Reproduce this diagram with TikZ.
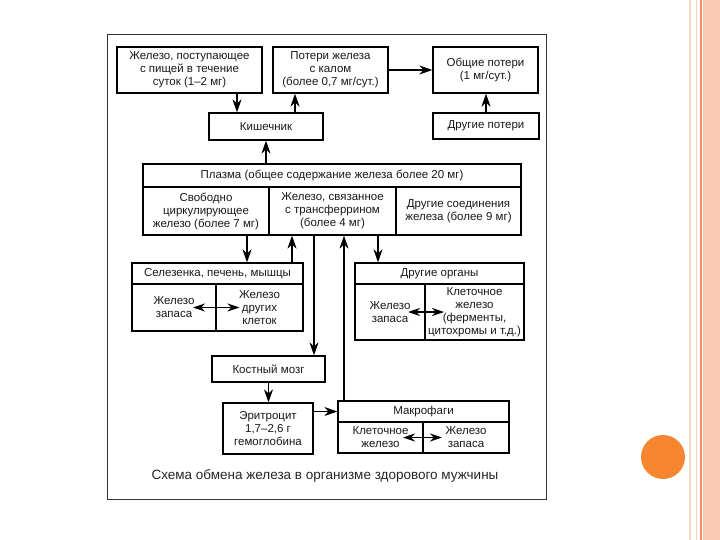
\documentclass[tikz,border=0pt]{standalone}
\usepackage{fontspec}
\setmainfont{Liberation Sans}
\usetikzlibrary{arrows.meta}
\definecolor{peach}{HTML}{FBC8B3}
\definecolor{peachline}{HTML}{F0906E}
\definecolor{paleline}{HTML}{F6D6C6}
\definecolor{dotorange}{HTML}{F5862F}

\begin{document}
\begin{tikzpicture}[x=1pt, y=-1pt,
        box/.style={draw, line width=1.2pt, align=center, inner sep=1pt, text=black!90,
                    font=\fontsize{11.5}{13}\selectfont},
        sz/.style 2 args={minimum width=#1pt, minimum height=#2pt},
        arr/.style={-{Stealth[length=13pt,width=9pt,inset=4pt]}, line width=1.6pt},
        darr/.style={{Stealth[length=12pt,width=8pt,inset=4pt]}-{Stealth[length=12pt,width=8pt,inset=4pt]}, line width=1.3pt}
        ]
        \fill[white] (0,0) rectangle (720,540);
        \useasboundingbox (0,0) rectangle (720,540);
        % slide decoration
        \fill[peach] (702.5,0) rectangle (720,540);
        \draw[peachline, line width=2.5pt] (701,0) -- (701,540);
        \draw[paleline, line width=1pt] (696.5,0) -- (696.5,540);
        \draw[paleline, line width=2pt] (689.5,0) -- (689.5,540);
        \fill[dotorange] (663,457) circle (22pt);
        % frame
        \draw[line width=1pt, black!80] (107,35) rectangle (546,499);

        \node[box, sz={145}{46}]    (food)       at (189.5,70)    {Железо, поступающее\\с пищей в течение\\суток (1–2 мг)};
        \node[box, sz={115}{46}]    (feces)      at (330.5,70)    {Потери железа\\с калом\\(более 0,7 мг/сут.)};
        \node[box, sz={105}{46}]    (total)      at (485.5,70)    {Общие потери\\(1 мг/сут.)};
        \node[box, sz={114}{27}]    (gut)        at (266,126.5)   {Кишечник};
        \node[box, sz={106}{26}]    (otherloss)  at (486,126)     {Другие потери};
        \node[box, sz={378}{23}]    (plasma)     at (332,175.5)   {Плазма (общее содержание железа более 20 мг)};
        \node[box, sz={126}{48}]    (free)       at (206,211)     {Свободно\\циркулирующее\\железо (более 7 мг)};
        \node[box, sz={127}{48}]    (transf)     at (332.5,211)   {Железо, связанное\\с трансферрином\\(более 4 мг)};
        \node[box, sz={125}{48}]    (compounds)  at (458.5,211)   {Другие соединения\\железа (более 9 мг)};
        \node[box, sz={171}{21}]    (spleenhead) at (217.5,273.5) {Селезенка, печень, мышцы};
        \node[box, sz={84}{47}]     (sstore)     at (174,307.5)   {Железо\\запаса};
        \node[box, sz={87}{47}]     (scells)     at (259.5,307.5) {Железо\\других\\клеток};
        \node[box, sz={169}{21}]    (organshead) at (439.5,273.5) {Другие органы};
        \node[box, sz={70}{56}]     (ostore)     at (390,312)     {Железо\\запаса};
        \node[box, sz={99}{56}]     (ocells)     at (474.5,312)   {Клеточное\\железо\\(ферменты,\\цитохромы и т.д.)};
        \node[box, sz={113}{26}]    (marrow)     at (268.5,369)   {Костный мозг};
        \node[box, sz={90}{51}]     (ery)        at (268,428.5)   {Эритроцит\\1,7–2,6 г\\гемоглобина};
        \node[box, sz={171}{21}]    (macrohead)  at (423.5,411.5) {Макрофаги};
        \node[box, sz={85}{31}]     (mcells)     at (380.5,437.5) {Клеточное\\железо};
        \node[box, sz={86}{31}]     (mstore)     at (466,437.5)   {Железо\\запаса};
        \node[text=black!85, font=\fontsize{13.5}{15}\selectfont] (caption) at (325,476)
            {Схема обмена железа в организме здорового мужчины};

        % connectors
        \draw[arr] ([xshift=47.5pt]food.south) -- ([xshift=47.5pt]food.south |- gut.north);
        \draw[arr] ([xshift=29pt]gut.north) -- ([xshift=29pt]gut.north |- feces.south);
        \draw[arr] (feces.east) -- (total.west);
        \draw[arr] (otherloss.north) -- (otherloss.north |- total.south);
        \draw[arr] (gut.south |- plasma.north) -- (gut.south);
        \draw[arr] ([xshift=41pt]free.south) -- ([xshift=41pt]free.south |- spleenhead.north);
        \draw[arr] ([xshift=74.5pt]spleenhead.north) -- ([xshift=74.5pt]spleenhead.north |- free.south);
        \draw[arr] ([xshift=-18.5pt]transf.south) -- ([xshift=-18.5pt]transf.south |- marrow.north);
        \draw[arr] ([xshift=-79.5pt]macrohead.north) -- ([xshift=-79.5pt]macrohead.north |- transf.south);
        \draw[arr] ([xshift=45.5pt]transf.south) -- ([xshift=45.5pt]transf.south |- organshead.north);
        \draw[arr] (marrow.south) -- (marrow.south |- ery.north);
        \draw[arr] (ery.east |- macrohead.west) -- (macrohead.west);
        \draw[darr] ([xshift=19pt]sstore.center) -- ([xshift=-20pt]scells.center);
        \draw[darr] ([xshift=18pt]ostore.center) -- ([xshift=-30.5pt]ocells.center);
        \draw[darr] ([xshift=22.5pt]mcells.center) -- ([xshift=-24pt]mstore.center);
    \end{tikzpicture}
\end{document}
